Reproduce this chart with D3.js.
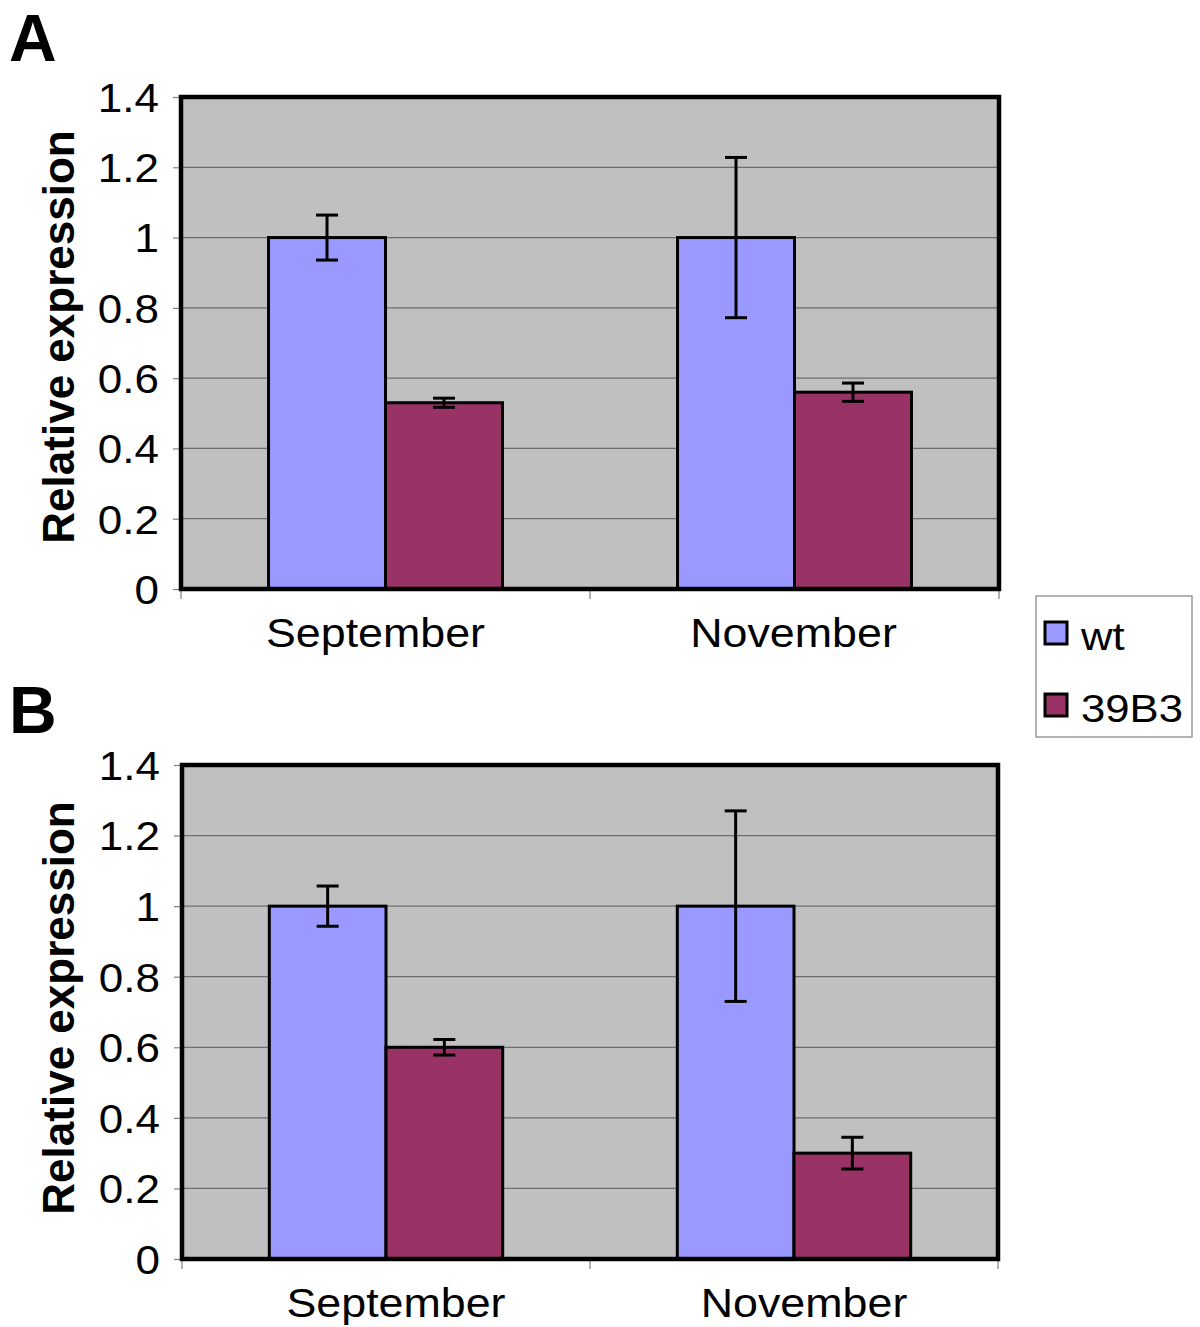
<!DOCTYPE html>
<html>
<head>
<meta charset="utf-8">
<script src="https://cdn.jsdelivr.net/npm/d3@7"></script>
<style>
  html, body { margin: 0; padding: 0; background: #fff; }
  svg { display: block; font-family: "Liberation Sans", Arial, sans-serif; }
</style>
</head>
<body>
<svg id="chart" width="1200" height="1327"></svg>
<script>
// ---- data ----
const categories = ["September", "November"];
const seriesNames = ["wt", "39B3"];
const seriesColors = ["#9999FF", "#993366"];
const yTicks = [0, 0.2, 0.4, 0.6, 0.8, 1, 1.2, 1.4];
const yTickLabels = ["0", "0.2", "0.4", "0.6", "0.8", "1", "1.2", "1.4"];

const panelA_wt = [1.0, 1.0];
const panelA_39B3 = [0.53, 0.56];
const panelA_wt_err = [0.064, 0.228];
const panelA_39B3_err = [0.013, 0.026];

const panelB_wt = [1.0, 1.0];
const panelB_39B3 = [0.60, 0.30];
const panelB_wt_err = [0.057, 0.27];
const panelB_39B3_err = [0.022, 0.045];

const yTitle = "Relative expression";

// ---- drawing ----
const svg = d3.select("#chart");

function drawPanel(opts) {
  const { letter, letterY, left, right, top, bottom, values, errors, titleCenterY, labelDx } = opts;
  const g = svg.append("g");

  const x0 = d3.scaleBand().domain(categories).range([left, right])
    .paddingInner(0.428).paddingOuter(0.214);
  const x1 = d3.scaleBand().domain(seriesNames).range([0, x0.bandwidth()]).padding(0);
  const y = d3.scaleLinear().domain([0, 1.4]).range([bottom, top]);

  // plot background
  g.append("rect").attr("x", left).attr("y", top)
    .attr("width", right - left).attr("height", bottom - top)
    .attr("fill", "#C0C0C0");

  // gridlines
  g.selectAll("line.grid").data(yTicks.filter(t => t > 0 && t < 1.4)).enter()
    .append("line").attr("class", "grid")
    .attr("x1", left).attr("x2", right)
    .attr("y1", d => y(d)).attr("y2", d => y(d))
    .attr("stroke", "#6e6e6e").attr("stroke-width", 1.3);

  // y axis via d3 axis
  const yAxis = d3.axisLeft(y).tickValues(yTicks)
    .tickFormat((d, i) => yTickLabels[i]).tickSize(8).tickPadding(14);
  const ya = g.append("g").attr("transform", `translate(${left},0)`).call(yAxis);
  ya.select(".domain").remove();
  ya.selectAll(".tick line").attr("stroke", "#808080").attr("stroke-width", 1.2);
  ya.selectAll(".tick text")
    .attr("font-size", 40).attr("fill", "#000")
    .attr("font-family", "Liberation Sans, Arial, sans-serif")
    .attr("dy", "0.36em");
  // horizontal stretch of tick labels (anchored at right end)
  ya.selectAll(".tick text").each(function () {
    const t = d3.select(this);
    const xx = +t.attr("x");
    t.attr("x", xx / 1.1).attr("transform", "scale(1.1,1)");
  });

  // x axis ticks (category boundaries)
  const bounds = [left, (left + right) / 2, right];
  g.selectAll("line.xt").data(bounds).enter().append("line")
    .attr("x1", d => d).attr("x2", d => d)
    .attr("y1", bottom).attr("y2", bottom + 10)
    .attr("stroke", "#808080").attr("stroke-width", 1.2);

  // bars
  const rows = [];
  categories.forEach((c, ci) => {
    seriesNames.forEach((s, si) => {
      rows.push({ cat: c, ser: s, si, v: values[si][ci], e: errors[si][ci] });
    });
  });
  g.selectAll("rect.bar").data(rows).enter().append("rect")
    .attr("class", "bar")
    .attr("x", d => x0(d.cat) + x1(d.ser))
    .attr("y", d => y(d.v))
    .attr("width", x1.bandwidth())
    .attr("height", d => y(0) - y(d.v))
    .attr("fill", d => seriesColors[d.si])
    .attr("stroke", "#000").attr("stroke-width", 3);

  // error bars
  const eb = g.selectAll("g.err").data(rows).enter().append("g").attr("class", "err");
  const cx = d => x0(d.cat) + x1(d.ser) + x1.bandwidth() / 2;
  eb.append("line")
    .attr("x1", cx).attr("x2", cx)
    .attr("y1", d => y(d.v + d.e)).attr("y2", d => y(d.v - d.e))
    .attr("stroke", "#000").attr("stroke-width", 3);
  eb.append("line")
    .attr("x1", d => cx(d) - 11).attr("x2", d => cx(d) + 11)
    .attr("y1", d => y(d.v + d.e)).attr("y2", d => y(d.v + d.e))
    .attr("stroke", "#000").attr("stroke-width", 3);
  eb.append("line")
    .attr("x1", d => cx(d) - 11).attr("x2", d => cx(d) + 11)
    .attr("y1", d => y(d.v - d.e)).attr("y2", d => y(d.v - d.e))
    .attr("stroke", "#000").attr("stroke-width", 3);

  // frame
  g.append("rect").attr("x", left).attr("y", top)
    .attr("width", right - left).attr("height", bottom - top)
    .attr("fill", "none").attr("stroke", "#000").attr("stroke-width", 4.5);

  // category labels
  g.selectAll("text.cat").data(categories).enter().append("text")
    .attr("class", "cat")
    .attr("text-anchor", "middle")
    .attr("font-size", 40)
    .attr("transform", (d, i) => `translate(${x0(d) + x0.bandwidth() / 2 + labelDx[i]},${bottom + 58}) scale(1.12,1)`)
    .text(d => d);

  // y title
  g.append("text")
    .attr("text-anchor", "middle")
    .attr("font-size", 44).attr("font-weight", "bold")
    .attr("transform", `translate(74,${titleCenterY}) rotate(-90)`)
    .text(yTitle);

  // panel letter
  g.append("text")
    .attr("x", 9).attr("y", letterY)
    .attr("font-size", 66).attr("font-weight", "bold")
    .text(letter);
}

drawPanel({
  letter: "A", letterY: 61,
  left: 181, right: 999, top: 97, bottom: 589,
  values: [panelA_wt, panelA_39B3],
  errors: [panelA_wt_err, panelA_39B3_err],
  titleCenterY: 337, labelDx: [-10, -1]
});
drawPanel({
  letter: "B", letterY: 733,
  left: 182, right: 998, top: 765, bottom: 1259,
  values: [panelB_wt, panelB_39B3],
  errors: [panelB_wt_err, panelB_39B3_err],
  titleCenterY: 1008, labelDx: [10, 10]
});

// legend
const leg = svg.append("g");
leg.append("rect").attr("x", 1036).attr("y", 596).attr("width", 156).attr("height", 141)
  .attr("fill", "#fff").attr("stroke", "#808080").attr("stroke-width", 1.2);
const legY = d3.scalePoint().domain(seriesNames).range([633, 705]);
const li = leg.selectAll("g.li").data(seriesNames).enter().append("g").attr("class", "li");
li.append("rect")
  .attr("x", 1045).attr("y", d => legY(d) - 11)
  .attr("width", 22).attr("height", 22)
  .attr("fill", (d, i) => seriesColors[i])
  .attr("stroke", "#000").attr("stroke-width", 3);
li.append("text")
  .attr("font-size", 38)
  .attr("transform", d => `translate(1081,${legY(d) + 17}) scale(1.15,1)`)
  .text(d => d);
</script>
</body>
</html>
